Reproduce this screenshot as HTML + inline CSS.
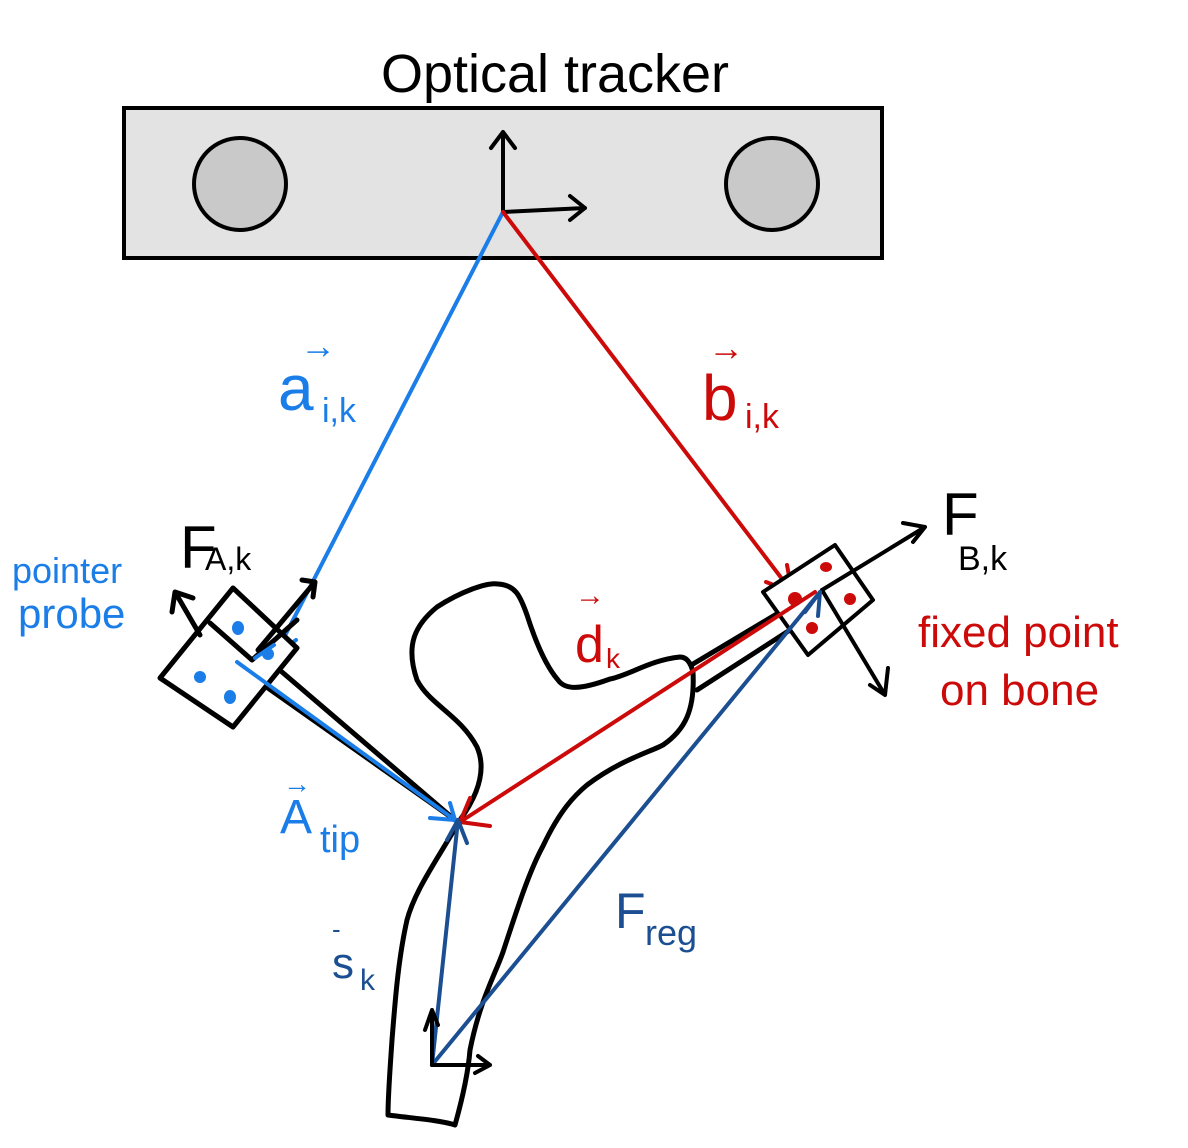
<!DOCTYPE html>
<html><head><meta charset="utf-8"><style>html,body{margin:0;padding:0;background:#fff}svg{display:block}text{font-family:"Liberation Sans","DejaVu Sans",sans-serif}</style></head>
<body>
<svg width="1188" height="1148" viewBox="0 0 1188 1148" xmlns="http://www.w3.org/2000/svg">
<rect width="1188" height="1148" fill="#fff"/>
<text x="555" y="92" font-size="54" text-anchor="middle" fill="#000">Optical  tracker</text>
<rect x="124" y="108" width="758" height="150" fill="#e3e3e3" stroke="#000" stroke-width="4"/>
<circle cx="240" cy="184" r="46" fill="#c9c9c9" stroke="#000" stroke-width="4"/>
<circle cx="772" cy="184" r="46" fill="#c9c9c9" stroke="#000" stroke-width="4"/>
<g stroke="#000" stroke-width="4" fill="none" stroke-linecap="round" stroke-linejoin="round">
<path d="M503,212 L503,132 M491,148 L503,132 L515,148"/>
<path d="M503,212 L585,208 M570,196 L585,208 L570,220"/>
</g>
<g stroke="#1a7de8" stroke-width="4" fill="none" stroke-linecap="round">
<path d="M503,212 L275,655 M270,630 L275,655 M296,640 L275,655"/>
</g>
<g stroke="#cc0a0a" stroke-width="4" fill="none" stroke-linecap="round">
<path d="M503,212 L792,592 M766,582 L792,592 M787,565 L792,592"/>
</g>
<!-- bone -->
<path d="M498,584 C487,582 460,592 437,607 C415,625 405,645 417,680 C430,705 460,715 477,747 C487,770 478,795 460,820 C437,860 415,890 407,920 C398,960 395,1003 392,1040 C390,1070 388,1095 388,1115 C410,1118 440,1120 455,1125 C462,1100 468,1075 470,1050 C480,1000 495,975 503,952 C520,900 530,870 543,846 C560,810 575,795 587,785 C620,760 650,752 663,745 C685,730 695,710 693,672 C690,660 685,657 680,657 C650,660 630,675 610,679 C580,690 565,690 558,680 C545,665 535,640 527,615 C520,595 515,585 498,584" fill="none" stroke="#000" stroke-width="5" stroke-linejoin="round" stroke-linecap="round"/>
<g stroke="#000" stroke-width="5" fill="none" stroke-linecap="round">
<path d="M693,664 L780,612"/>
<path d="M697,690 L790,630"/>
</g>
<polygon points="763,592 835,545 873,600 808,655" fill="#fff" stroke="#000" stroke-width="4" stroke-linejoin="round"/>
<g fill="#cc0a0a"><ellipse cx="826" cy="567" rx="6" ry="5"/><ellipse cx="850" cy="599" rx="6" ry="6"/><ellipse cx="812" cy="628" rx="6" ry="6"/><circle cx="795" cy="599" r="7"/></g>
<g stroke="#000" stroke-width="4" fill="none" stroke-linecap="round" stroke-linejoin="round">
<path d="M822,590 L925,527 M903,523 L925,527 L913,542"/>
<path d="M822,590 L885,695 M870,685 L885,695 L888,668"/>
</g>
<g stroke="#000" stroke-width="5" fill="none" stroke-linecap="round" stroke-linejoin="round">
<path d="M265,686 L455,820 L282,672"/>
<polygon points="160,678 233,588 297,648 233,727" fill="#fff"/>
<path d="M210,623 L252,660 L297,620"/>
<path d="M200,635 L175,592 M172,612 L175,592 L193,598"/>
<path d="M258,650 L315,582 M302,580 L315,582 L313,597"/>
</g>
<g fill="#1a7de8"><ellipse cx="238" cy="628" rx="6" ry="7"/><ellipse cx="268" cy="654" rx="6" ry="6"/><ellipse cx="200" cy="677" rx="6" ry="6"/><ellipse cx="230" cy="697" rx="6" ry="7"/></g>
<g stroke="#1a7de8" stroke-width="4" fill="none" stroke-linecap="round">
<path d="M237,662 L455,820 M430,818 L455,820 M450,803 L455,820"/>
<path d="M274,645 L255,658"/>
</g>
<g stroke="#cc0a0a" stroke-width="4" fill="none" stroke-linecap="round">
<path d="M815,592 L460,822 M470,798 L460,822 M490,826 L460,822"/>
</g>
<g stroke="#1b4f91" stroke-width="4" fill="none" stroke-linecap="round">
<path d="M432,1065 L458,820 M447,840 L458,820 M467,843 L458,820"/>
<path d="M432,1065 L820,592 M805,612 L820,592 M818,616 L820,592"/>
</g>
<g stroke="#000" stroke-width="4" fill="none" stroke-linecap="round" stroke-linejoin="round">
<path d="M432,1065 L432,1010 M425,1030 L432,1010 L438,1025"/>
<path d="M432,1065 L490,1065 M478,1056 L490,1065 L475,1073"/>
</g>
<g fill="#1a7de8">
<text x="278" y="410" font-size="64">a</text><text x="300" y="358" font-size="36">→</text>
<text x="322" y="422" font-size="34">i,k</text>
<text x="12" y="583" font-size="36">pointer</text>
<text x="18" y="628" font-size="42">probe</text>
<text x="280" y="833" font-size="48">A</text><text x="283" y="793" font-size="28">→</text>
<text x="320" y="852" font-size="38">tip</text>
</g>
<g fill="#1b4f91">
<text x="332" y="978" font-size="44">s</text><text x="332" y="938" font-size="26">-</text>
<text x="360" y="990" font-size="30">k</text>
<text x="615" y="928" font-size="50">F</text><text x="645" y="945" font-size="36">reg</text>
</g>
<g fill="#cc0a0a">
<text x="702" y="420" font-size="64">b</text><text x="708" y="360" font-size="36">→</text>
<text x="745" y="428" font-size="34">i,k</text>
<text x="575" y="662" font-size="52">d</text><text x="575" y="605" font-size="30">→</text>
<text x="606" y="668" font-size="28">k</text>
<text x="918" y="647" font-size="44">fixed point</text>
<text x="940" y="705" font-size="44">on  bone</text>
</g>
<g fill="#000">
<text x="180" y="568" font-size="60">F</text><text x="205" y="570" font-size="32">A,k</text>
<text x="942" y="535" font-size="60">F</text><text x="958" y="570" font-size="34">B,k</text>
</g>
</svg>
</body></html>
